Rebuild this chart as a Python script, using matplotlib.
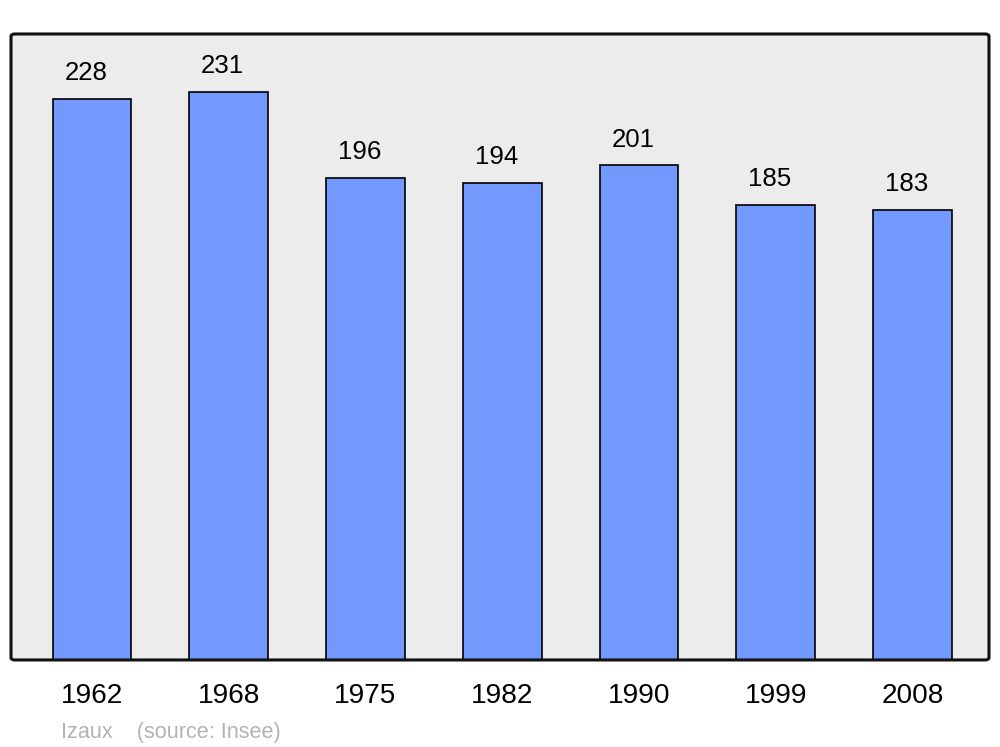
import matplotlib
matplotlib.use("Agg")
import matplotlib.pyplot as plt
from matplotlib.patches import FancyBboxPatch

plt.rcParams['font.family'] = ['Liberation Sans', 'DejaVu Sans']

years = ['1962', '1968', '1975', '1982', '1990', '1999', '2008']
population = [228, 231, 196, 194, 201, 185, 183]
commune = 'Izaux'
source = '(source: Insee)'

fig = plt.figure(figsize=(10, 7.47), dpi=100)
ax = fig.add_axes([0.011, 0.1165, 0.978, 0.838])
ax.set_facecolor('#ececec')

x = range(len(years))
ax.bar(x, population, width=0.575, color='#7399ff', edgecolor='black',
       linewidth=1.2, zorder=2)

# valeurs au-dessus des barres
for i, v in enumerate(population):
    ax.annotate(str(v), (i, v), xytext=(-4.3, 18.6), textcoords='offset points',
                ha='center', va='center', fontsize=18.6, color='black')

ax.set_xlim(-0.592, 6.559)
ax.set_ylim(0, 254.4)
ax.set_yticks([])
ax.set_xticks(list(x))
ax.set_xticklabels(years, fontsize=20.2)
ax.tick_params(axis='x', length=0, pad=16.5)

for s in ax.spines.values():
    s.set_visible(False)
frame = FancyBboxPatch((0, 0), 1, 1, boxstyle='round,pad=0,rounding_size=0.004',
                       transform=ax.transAxes, facecolor='none',
                       edgecolor='#111111', linewidth=2.2, zorder=5,
                       clip_on=False)
ax.add_patch(frame)

fig.text(0.061, 1 - 732.5 / 747, commune + '    ' + source, fontsize=15.6,
         color='#b3b3b3', ha='left', va='center')

fig.savefig('out.png', dpi=100)
